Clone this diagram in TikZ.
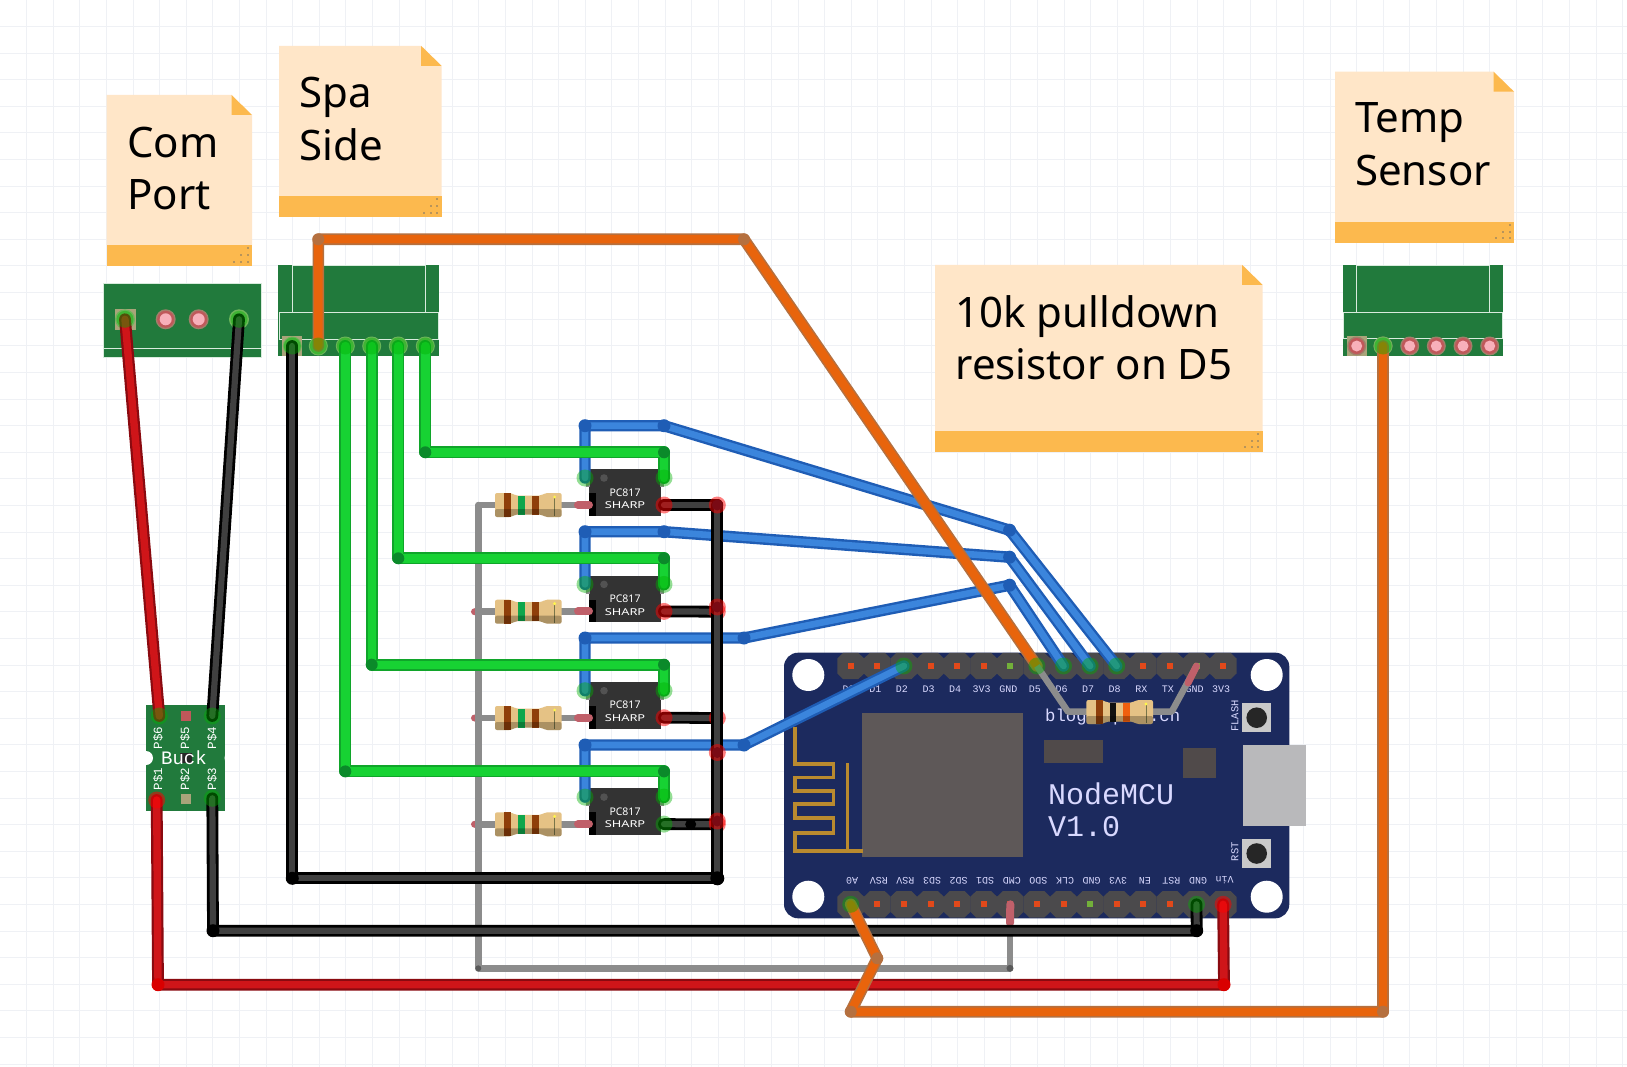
\documentclass[tikz,border=0pt]{standalone}
\usepackage{fontspec}
\usepackage{tikz}
\newfontfamily\notefont{Noto Sans}
\newfontfamily\pcbfont{Liberation Mono}
\definecolor{gridc}{HTML}{EFF1F5}
\definecolor{notebody}{HTML}{FFE6C8}
\definecolor{notestrip}{HTML}{FCB94E}
\definecolor{notedot}{HTML}{B8945A}
\definecolor{pcbgreen}{HTML}{217A3C}
\definecolor{pcbline}{HTML}{D9EBDD}
\definecolor{pcbblue}{HTML}{1C2A5E}
\definecolor{hdrgray}{HTML}{4B4A4C}
\definecolor{chipgray}{HTML}{5E5858}
\definecolor{rectgray}{HTML}{504A4A}
\definecolor{antgold}{HTML}{B98A2F}
\definecolor{usbgray}{HTML}{B9B9BB}
\definecolor{btngray}{HTML}{C9C9C9}
\definecolor{pinred}{HTML}{E2491A}
\definecolor{pingreen}{HTML}{73B03A}
\definecolor{padtan}{HTML}{A9A47A}
\definecolor{padring}{HTML}{C0585A}
\definecolor{padrim}{HTML}{A0806A}
\definecolor{padpink}{HTML}{F8B0BA}
\definecolor{padgreen}{HTML}{6DB65A}
\definecolor{legpink}{HTML}{C0606A}
\definecolor{leggray}{HTML}{8C8C8C}
\definecolor{bodytan}{HTML}{E5C285}
\definecolor{rbrown}{HTML}{8F3F0A}
\definecolor{rgreen}{HTML}{0FA64C}
\definecolor{rblack}{HTML}{111111}
\definecolor{rorange}{HTML}{F0600F}
\definecolor{redout}{HTML}{8A0A10}
\definecolor{redin}{HTML}{CF1519}
\definecolor{blackin}{HTML}{404040}
\definecolor{blueout}{HTML}{1F5DB5}
\definecolor{bluein}{HTML}{3B85DC}
\definecolor{greenout}{HTML}{10A52A}
\definecolor{greenin}{HTML}{17D233}
\definecolor{greendot}{HTML}{0B8A2A}
\definecolor{orangeout}{HTML}{B5703F}
\definecolor{orangein}{HTML}{E8640C}
\definecolor{maroon}{HTML}{7A0A14}

\begin{document}
\begin{tikzpicture}[x=1pt,y=-1pt]
\tikzstyle{every node}=[inner sep=0pt]
\tikzstyle{wirered}=[draw=redout,double=redin,line width=2.2pt,double distance=7.4pt,line cap=round,line join=round]
\tikzstyle{wireblack}=[draw=black,double=blackin,line width=2.8pt,double distance=6.2pt,line cap=round,line join=round]
\tikzstyle{wireblue}=[draw=blueout,double=bluein,line width=2.4pt,double distance=6.6pt,line cap=round,line join=round]
\tikzstyle{wiregreen}=[draw=greenout,double=greenin,line width=1.8pt,double distance=8.4pt,line cap=round,line join=round]
\tikzstyle{wireorange}=[draw=orangeout,double=orangein,line width=1.6pt,double distance=8.4pt,line cap=round,line join=round]
\tikzstyle{wiregray}=[draw=leggray,line width=6.5pt,line cap=round,line join=round]
\tikzstyle{legpinkish}=[draw=legpink,line width=8pt,line cap=round]
\tikzstyle{halogreen}=[fill=green!70!black,opacity=.42]
\tikzstyle{halored}=[fill=red,opacity=.5]
\tikzstyle{notetext}=[font=\notefont\fontsize{42}{52.5}\selectfont,align=left,anchor=north west,text=black]
\tikzstyle{pcbtext}=[font=\pcbfont\fontsize{10}{12}\selectfont,text=white!85!blue]
\tikzstyle{bucktext}=[font=\pcbfont\fontsize{12.5}{14}\selectfont,text=white,rotate=90]

\useasboundingbox (0,0) rectangle (1627,1067);
\fill[white] (0,0) rectangle (1627,1067);

% Grid
\foreach \gx in {1,...,61}
  \draw[gridc,line width=1pt] (\gx*26.6,0) -- (\gx*26.6,1067);
\foreach \gy in {1,...,40}
  \draw[gridc,line width=1pt] (0,\gy*26.6) -- (1627,\gy*26.6);

% Notes
\foreach \nn/\nl/\nt/\nr/\ns/\nb/\tx/\ty/\txt in {
    com/106.7/95/252/245/266/127/126.5/{Com\\Port},
    spa/279/46/441.7/196/217/299.2/77/{Spa\\Side},
    temp/1335/71.7/1514/222/242.7/1355/102.5/{Temp\\Sensor},
    pull/935/265/1262.7/431/451.7/955.3/295/{10k pulldown\\resistor on D5}} {
  \fill[notebody] (\nl,\nt) -- (\nr-20.5,\nt) -- (\nr,\nt+20) -- (\nr,\ns) -- (\nl,\ns) -- cycle;
  \fill[notestrip] (\nr-20.5,\nt) -- (\nr,\nt+20) -- (\nr-20.5,\nt+20) -- cycle;
  \fill[notestrip] (\nl,\ns) rectangle (\nr,\nb);
  \foreach \dx/\dy in {17.7/4.3,11/4.3,4.3/4.3,11/11,4.3/11,4.3/17.7}
    \fill[notedot] (\nr-\dx-1,\nb-\dy-1) rectangle (\nr-\dx+1,\nb-\dy+1);
  \node[notetext] (note\nn) at (\tx,\ty) {\txt};
}

% Com port board
\fill[pcbgreen] (103.3,283.3) rectangle (261.7,357.3);
\draw[pcbline,line width=1pt] (103.3,283.3) rectangle (261.7,357.3);
\draw[pcbline,line width=1pt] (103.3,348.3) -- (261.7,348.3);
\fill[padtan] (114.5,309) rectangle (135.5,330);
\foreach \px/\pn in {125/1,165.7/2,198.7/3,239/4}
  \coordinate (com\pn) at (\px,319.3);
\foreach \pn in {2,3} {
  \fill[padrim] (com\pn) circle (10pt);
  \fill[padring] (com\pn) circle (8.5pt);
  \fill[padpink] (com\pn) circle (6pt);
}
\foreach \pn in {1,4}
  \fill[padgreen] (com\pn) circle (10pt);

% Spa side and temp sensor boards
\foreach \bl/\br/\by in {278.3/439.3/339.3,1342.7/1503.3/338.7} {
  \fill[pcbgreen] (\bl,265.3) rectangle (\br,355.5);
  \draw[pcbline,line width=1pt] (\bl+13.7,265.3) -- (\bl+13.7,312.7);
  \draw[pcbline,line width=1pt] (\br-13.7,265.3) -- (\br-13.7,312.7);
  \draw[pcbline,line width=1pt] (\bl+13.7,265.8) -- (\br-13.7,265.8);
  \draw[pcbline,line width=1pt] (\bl+1,312.7) rectangle (\br-1,\by);
}
\fill[padtan] (282,336) rectangle (302,355.5);
\fill[padtan] (1346.5,336) rectangle (1367,355.5);
\foreach \px [count=\pn] in {292.3,318.3,345.3,371.7,398.3,425.3} {
  \coordinate (spa\pn) at (\px,346);
  \fill[padgreen] (spa\pn) circle (9.5pt);
}
\foreach \px [count=\pn] in {1356.7,1383,1409.7,1436.3,1463,1489.7} {
  \coordinate (tmp\pn) at (\px,346);
  \fill[padrim] (tmp\pn) circle (9.5pt);
  \fill[padring] (tmp\pn) circle (8pt);
  \fill[padpink] (tmp\pn) circle (5.5pt);
}
\fill[padgreen] (tmp2) circle (9.5pt);

% Buck board
\fill[pcbgreen] (146,705.3) rectangle (225.3,811.3);
\fill[white] (146,758) circle (7pt);
\fill[white] (230.5,758) circle (6pt);
\fill[black!85] (180,753) rectangle (191.7,763);
\fill[padring] (181,711) rectangle (191,721);
\fill[padtan] (181,794) rectangle (191,804);
\foreach \bn/\bx/\by in {p6/159.3/716,p4/212.3/716,p1/156.7/800,p3/212.3/798.3}
  \coordinate (\bn) at (\bx,\by);
\node[bucktext] (lab6) at (158,738) {P\$6};
\node[bucktext] (lab5) at (185,738) {P\$5};
\node[bucktext] (lab4) at (212,738) {P\$4};
\node[bucktext] (lab1) at (158,779) {P\$1};
\node[bucktext] (lab2) at (185,779) {P\$2};
\node[bucktext] (lab3) at (212,779) {P\$3};
\node[font=\pcbfont\fontsize{19}{21}\selectfont,text=white] (bucklab) at (184,758) {Buck};

% NodeMCU board
\fill[pcbblue,rounded corners=14pt] (784,652.7) rectangle (1289.3,918.3);
\fill[usbgray] (1242.7,745) rectangle (1306,825.7);
\foreach \hx/\hy in {808.3/675,808.3/896.7,1266.7/675,1266.7/896.7}
  \fill[white] (\hx,\hy) circle (16pt);
\fill[chipgray] (862.3,713.3) rectangle (1022.7,857.3);
\fill[rectgray] (1044.3,740) rectangle (1103.3,762.7);
\fill[rectgray] (1182.7,748) rectangle (1216,778.3);
\draw[antgold,line width=3.6pt] (795,726.7) -- (795,764) -- (833.3,764) -- (833.3,777.3) -- (795,777.3)
  -- (795,790.7) -- (833.3,790.7) -- (833.3,804) -- (795,804) -- (795,818) -- (833.3,818)
  -- (833.3,832.7) -- (795,832.7) -- (795,850.7) -- (863.3,850.7);
\draw[antgold,line width=3.6pt] (847.3,763) -- (847.3,850.7);
\foreach \by in {717.7,853.5} {
  \fill[btngray] (1242,\by-14.7) rectangle (1271.3,\by+14.7);
  \fill[black!85] (1256.7,\by) circle (10.3pt);
}
\node[pcbtext,font=\pcbfont\fontsize{10.5}{12}\selectfont,rotate=90] (flash) at (1235,716) {FLASH};
\node[pcbtext,font=\pcbfont\fontsize{10.5}{12}\selectfont,rotate=90] (rst) at (1235,851.7) {RST};
\node[pcbtext,font=\pcbfont\fontsize{17.3}{20}\selectfont,anchor=base west] (blog) at (1045,721.7) {blog.squix.ch};
\node[pcbtext,font=\pcbfont\fontsize{30}{31.4}\selectfont,anchor=north west,align=left] (mcu) at (1047.8,783) {NodeMCU\\V1.0};

% Headers
\foreach \hy/\hn in {666/top,904.3/bot}
  \foreach \k in {0,...,14} {
    \pgfmathsetmacro\hx{850.7+26.6*\k}
    \coordinate (\hn\k) at (\hx,\hy);
    \fill[hdrgray] (\hx-13.4,\hy-7.5) -- (\hx-7.5,\hy-13.2) -- (\hx+7.5,\hy-13.2) -- (\hx+13.4,\hy-7.5)
      -- (\hx+13.4,\hy+7.5) -- (\hx+7.5,\hy+13.2) -- (\hx-7.5,\hy+13.2) -- (\hx-13.4,\hy+7.5) -- cycle;
    \fill[pinred] (\hx-3,\hy-3) rectangle (\hx+3,\hy+3);
  }
\foreach \g in {top6,top13,bot9,bot13}
  \fill[pingreen] ([shift={(-3,-3)}]\g) rectangle ([shift={(3,3)}]\g);
\foreach \lab [count=\k from 0] in {D0,D1,D2,D3,D4,3V3,GND,D5,D6,D7,D8,RX,TX,GND,3V3}
  \node[pcbtext] (toplab\k) at (848.7+26.6*\k,689) {\lab};
\foreach \lab [count=\k from 0] in {A0,RSV,RSV,SD3,SD2,SD1,CMD,SDO,CLK,GND,3V3,EN,RST,GND,Vin}
  \node[pcbtext,rotate=180] (botlab\k) at (852.2+26.6*\k,880.5) {\lab};

% Resistors
\foreach \ry in {611.7,718,824.3}
  \fill[legpink] (474.5,\ry) circle (3.5pt);
\foreach \ry in {505,611.7,718,824.3} {
  \draw[leggray,line width=6.5pt] (478.3,\ry) -- (585,\ry);
  \begin{scope}[shift={(528.3,\ry)}]
    \path[fill=bodytan,rounded corners=2pt] (-33.3,-12) -- (-17,-12) -- (-13,-9.5) -- (13,-9.5) -- (17,-12) -- (33.3,-12)
      -- (33.3,12) -- (17,12) -- (13,9.5) -- (-13,9.5) -- (-17,12) -- (-33.3,12) -- cycle;
    \fill[rbrown] (-24,-12) rectangle (-17,12);
    \fill[rgreen] (-10,-9.5) rectangle (-3.5,9.5);
    \fill[rbrown] (3.2,-9.5) rectangle (10.4,9.5);
    \draw[black!60!yellow,line width=1pt] (26.3,-7) -- (26.3,11);
    \fill[yellow!70] (26.3,-8) circle (1.6pt);
    \path[fill=black,opacity=.25,rounded corners=2pt] (-33.3,4) -- (33.3,4) -- (33.3,12) -- (17,12) -- (13,9.5)
      -- (-13,9.5) -- (-17,12) -- (-33.3,12) -- cycle;
  \end{scope}
}

% Optocouplers
\foreach \oy [count=\on] in {469.3,575.7,682,788.4} {
  \fill[black!80] (589.3,\oy) rectangle (661,\oy+46.7);
  \fill[black] (589.3,\oy+24) rectangle (596,\oy+46.7);
  \fill[black!68] (604,\oy+8.7) circle (3.8pt);
  \fill[leggray] (586,\oy+11) rectangle (590,\oy+18);
  \fill[leggray] (660,\oy+11) rectangle (664,\oy+18);
  \node[font=\notefont\fontsize{10.5}{12}\selectfont,text=white!85] (pc\on) at (625,\oy+23) {PC817};
  \node[font=\notefont\bfseries\fontsize{9.5}{12}\selectfont,text=white!92] (sharp\on) at (625,\oy+36) {\scalebox{1.35}[1]{SHARP}};
  \coordinate (ain\on) at (585,\oy+8.7);
  \coordinate (cat\on) at (664,\oy+8.7);
  \coordinate (col\on) at (664,\oy+35.7);
  \draw[legpinkish] (578,\oy+35.7) -- (589,\oy+35.7);
}

% Way points
\foreach \wn/\wx/\wy in {bluea/585/425.7,blueb/664/425.7,bluec/1009.6/530.2,
    blued/585/531.7,bluee/664/531.7,bluef/1009.6/557.2,
    blueg/585/638,blueh/744/638,bluei/1009.6/585.2,
    bluej/585/745,bluek/744/745,
    grna/425.3/452.3,grnb/664/452.3,grnc/398.3/558.3,grnd/664/558.3,
    grne/371.7/664.7,grnf/664/664.7,grng/345.3/771.4,grnh/664/771.4,
    blka/292.3/878.3,blkb/717.3/878.3,blkc/717.3/505,blkd/717.3/611.7,blke/717.3/718,blkf/717.3/824.3,
    blkg/690.7/824.3,blkh/213/930.7,blki/1196.7/930.7,
    blkm/717.3/607,blkn/717.3/752.5,blko/717.3/821,
    reda/158/984.7,redb/1224/984.7,
    orga/318.3/239.3,orgb/744/239.3,orgc/850.7/1011.7,orgd/877.3/958.3,orge/1383/1011.7,
    gryt/478.3/505,gryb/478.3/968.3,gryc/1010/968.3,cmda/1010/923,
    legd/1068/711.7,lege/1171.7/711.7,legf/1088/711.7,legg/1152/711.7,pinka/1188/683}
  \coordinate (\wn) at (\wx,\wy);

% Wires
\draw[wiregray] (gryt) -- (gryb) -- (gryc) -- (cmda);
\draw[legpinkish] (bot6) -- (cmda);
\fill[black!65] (gryc) circle (3.5pt);
\fill[black!65] (gryb) circle (3pt);
\draw[wireblue] (ain1) -- (bluea) -- (blueb) -- (bluec) -- (top10);
\draw[wireblue] (ain2) -- (blued) -- (bluee) -- (bluef) -- (top9);
\draw[wireblue] (ain3) -- (blueg) -- (blueh) -- (bluei) -- (top8);
\draw[wireblue] (ain4) -- (bluej) -- (bluek) -- (top2);
\foreach \p in {bluea,blueb,bluec,blued,bluee,bluef,blueg,blueh,bluei,bluej,bluek}
  \fill[blueout] (\p) circle (6.5pt);
\draw[wiregreen] (spa6) -- (grna) -- (grnb) -- (cat1);
\draw[wiregreen] (spa5) -- (grnc) -- (grnd) -- (cat2);
\draw[wiregreen] (spa4) -- (grne) -- (grnf) -- (cat3);
\draw[wiregreen] (spa3) -- (grng) -- (grnh) -- (cat4);
\foreach \p in {grna,grnb,grnc,grnd,grne,grnf,grng,grnh}
  \fill[greendot] (\p) circle (6pt);
\draw[wireblack] (col1) -- (blkc);
\draw[wireblack] (col2) -- (blkd);
\draw[wireblack] (col3) -- (blke);
\draw[wireblack] (col4) -- (blkf);
\foreach \p in {blkd,blke,blkf}
  \fill[halored] (\p) circle (8.5pt);
\draw[wireblack] (spa1) -- (blka) -- (blkb) -- (blkc);
\fill[black] (blka) circle (6.5pt);
\fill[black] (blkb) circle (7pt);
\fill[black] (blkg) circle (5.5pt);
\foreach \p in {blkc,blkm,blkn,blko} {
  \fill[halored] (\p) circle (8.5pt);
  \fill[maroon] (\p) circle (5.5pt);
}
\draw[wireblack] (com4) -- (p4);
\draw[wireblack] (p3) -- (blkh) -- (blki) -- (bot13);
\fill[black] (blkh) circle (6.5pt);
\fill[black] (blki) circle (6.5pt);
\draw[wirered] (com1) -- (p6);
\draw[wirered] (p1) -- (reda) -- (redb) -- (bot14);
\fill[red!85!black] (reda) circle (6.5pt);
\fill[red!85!black] (redb) circle (6.5pt);
\draw[wireorange] (spa2) -- (orga) -- (orgb) -- (top7);
\draw[wireorange] (bot0) -- (orgd) -- (orgc) -- (orge) -- (tmp2);
\foreach \p in {orga,orgb,orgc,orgd,orge}
  \fill[orangeout] (\p) circle (6pt);

% 10k resistor
\draw[leggray,line width=6.5pt,line join=round] (top7) -- (legd) -- (legf);
\draw[leggray,line width=6.5pt,line join=round] (top13) -- (lege) -- (legg);
\draw[legpinkish,line width=7pt] (top13) -- (pinka);
\begin{scope}[shift={(1119.7,712)}]
  \path[fill=bodytan,rounded corners=2pt] (-33.3,-12) -- (-17,-12) -- (-13,-9.5) -- (13,-9.5) -- (17,-12) -- (33.3,-12)
    -- (33.3,12) -- (17,12) -- (13,9.5) -- (-13,9.5) -- (-17,12) -- (-33.3,12) -- cycle;
  \fill[rbrown] (-24,-12) rectangle (-17,12);
  \fill[rblack] (-10,-9.5) rectangle (-3.5,9.5);
  \fill[rorange] (3.2,-9.5) rectangle (10.4,9.5);
  \draw[black!60!yellow,line width=1pt] (26.3,-7) -- (26.3,11);
  \fill[yellow!70] (26.3,-8) circle (1.6pt);
  \path[fill=black,opacity=.25,rounded corners=2pt] (-33.3,4) -- (33.3,4) -- (33.3,12) -- (17,12) -- (13,9.5)
    -- (-13,9.5) -- (-17,12) -- (-33.3,12) -- cycle;
\end{scope}

% Connected ends
\foreach \p in {top2,top7,top8,top9,top10,bot0,bot13,com1,com4,spa1,spa2,spa3,spa4,spa5,spa6,tmp2,p6,p4,p3,ain1,ain2,ain3,ain4,cat1,cat2,cat3,cat4,col4}
  \fill[halogreen] (\p) circle (8.5pt);
\foreach \p in {col1,col2,col3,p1,bot14}
  \fill[halored] (\p) circle (8.5pt);
\end{tikzpicture}
\end{document}
